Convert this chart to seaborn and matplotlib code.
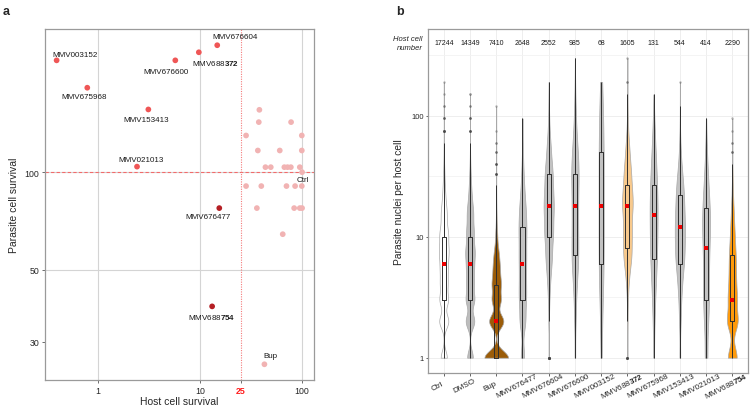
import numpy as np
import pandas as pd
import seaborn as sns
import matplotlib.pyplot as plt
import matplotlib.transforms as mtransforms

# ---------------- panel a : host vs parasite cell survival ----------------
hit_names = ["MMV003152", "MMV675968", "MMV153413", "MMV021013", "MMV676600",
             "MMV688372", "MMV676604", "MMV676477", "MMV688754", "Bup", "Ctrl"]
hit_host = [0.39, 0.78, 3.1, 2.4, 5.7, 9.7, 14.7, 15.4, 13.1, 42.7, 100]
hit_parasite = [221, 182, 156, 104, 221, 234, 246, 77.5, 38.6, 25.6, 100]
hit_group = ["active"] * 7 + ["selective"] * 2 + ["inactive"] * 2

other_host = [38.1, 37.6, 78, 28.2, 99.4, 36.8, 60.4, 99.4, 43.7, 49.3, 67, 72,
              77.6, 95, 28.2, 39.8, 70.3, 85.4, 99.4, 36, 83.6, 95, 100, 64.6]
other_parasite = [155.6, 142.6, 142.6, 129.7, 129.7, 116.6, 116.6, 116.6, 103.6,
                  103.6, 103.6, 103.6, 103.6, 103.6, 90.6, 90.6, 90.6, 90.6, 90.6,
                  77.5, 77.5, 77.5, 77.5, 64.4]

# ---------------- panel b : parasite nuclei per host cell ----------------
compounds = ["Ctrl", "DMSO", "Bup", "MMV676477", "MMV676604", "MMV676600",
             "MMV003152", "MMV688372", "MMV675968", "MMV153413", "MMV021013",
             "MMV688754"]
host_cell_number = [17244, 14349, 7410, 2648, 2552, 985, 68, 1605, 131, 544, 414, 2290]

# number of host cells (counts) carrying each number of parasite nuclei
nuclei_values = [1, 2, 3, 4, 5, 6, 7, 8, 10, 12, 15, 18, 22, 27, 33, 40, 50, 60,
                 75, 95, 120, 150, 190, 240, 300]
ctrl_counts = [1500, 2200, 2000, 1500, 1200, 1100, 900, 1400, 1500, 1000, 1000, 700,
               500, 320, 200, 120, 60, 28, 8, 4, 2, 1, 1, 0, 0]
dmso_counts = [1200, 1800, 1700, 1300, 1000, 900, 800, 1100, 1000, 900, 900, 650,
               450, 300, 170, 100, 45, 20, 6, 4, 2, 2, 0, 0, 0]
bup_counts = [2500, 1500, 900, 800, 500, 400, 250, 220, 150, 80, 50, 25,
              12, 5, 6, 5, 3, 2, 1, 0, 1, 0, 0, 0, 0]
mmv676477_counts = [200, 300, 300, 220, 160, 150, 120, 160, 180, 200, 180, 140,
                    110, 80, 55, 40, 25, 16, 8, 4, 0, 0, 0, 0, 0]
mmv676604_counts = [15, 35, 55, 75, 95, 110, 120, 120, 220, 200, 220, 230,
                    220, 190, 190, 150, 110, 80, 50, 30, 18, 12, 7, 0, 0]
mmv676600_counts = [20, 30, 35, 40, 45, 50, 50, 50, 60, 60, 50, 60,
                    55, 60, 75, 65, 55, 40, 30, 22, 14, 9, 5, 3, 2]
mmv003152_counts = [3, 3, 3, 3, 3, 4, 2, 3, 3, 3, 3, 3,
                    3, 3, 3, 3, 4, 3, 3, 3, 3, 2, 2, 0, 0]
mmv688372_counts = [10, 15, 25, 40, 60, 80, 90, 110, 130, 130, 110, 170,
                    150, 120, 110, 90, 65, 45, 25, 15, 8, 4, 2, 0, 1]
mmv675968_counts = [4, 5, 6, 6, 6, 6, 7, 8, 9, 8, 10, 10,
                    9, 9, 7, 6, 5, 4, 3, 2, 0, 1, 0, 0, 0]
mmv153413_counts = [12, 18, 22, 26, 30, 34, 36, 40, 50, 52, 50, 35,
                    45, 35, 25, 14, 9, 5, 3, 1, 1, 0, 1, 0, 0]
mmv021013_counts = [35, 40, 40, 25, 20, 18, 17, 20, 30, 30, 35, 25,
                    22, 18, 14, 10, 7, 4, 2, 2, 0, 0, 0, 0, 0]
mmv688754_counts = [420, 480, 330, 200, 150, 120, 100, 110, 110, 80, 70, 45,
                    30, 20, 12, 6, 3, 2, 1, 1, 0, 0, 0, 0, 0]

counts_by_compound = {
    "Ctrl": ctrl_counts, "DMSO": dmso_counts, "Bup": bup_counts,
    "MMV676477": mmv676477_counts, "MMV676604": mmv676604_counts,
    "MMV676600": mmv676600_counts, "MMV003152": mmv003152_counts,
    "MMV688372": mmv688372_counts, "MMV675968": mmv675968_counts,
    "MMV153413": mmv153413_counts, "MMV021013": mmv021013_counts,
    "MMV688754": mmv688754_counts,
}

df_a = pd.DataFrame({
    "host": hit_host + other_host,
    "parasite": hit_parasite + other_parasite,
    "group": hit_group + ["inactive"] * len(other_host),
})

df_b = pd.concat([
    pd.DataFrame({"compound": c, "nuclei": np.repeat(nuclei_values, counts_by_compound[c])})
    for c in compounds
], ignore_index=True)

# ------------------------------------------------------------------------
sns.set_theme(style="white")
plt.rcParams["font.family"] = ["Liberation Sans", "DejaVu Sans"]
plt.rcParams["mathtext.fontset"] = "custom"
plt.rcParams["mathtext.rm"] = "Liberation Sans"
plt.rcParams["mathtext.bf"] = "Liberation Sans:bold"


def pretty(name):
    # the distinguishing digits are set in bold
    if name in ("MMV688372", "MMV688754"):
        return name[:6] + r"$\mathbf{" + name[6:] + "}$"
    return name


fig = plt.figure(figsize=(7.5, 4.06), dpi=100)
ax_a = fig.add_axes([0.06, 0.0616, 0.3587, 0.8645])
ax_b = fig.add_axes([0.5707, 0.0781, 0.4267, 0.848])

# ---- panel a
ax_a.set_xscale("log")
ax_a.set_yscale("log")
for v in [1, 10, 100]:
    ax_a.axvline(v, color="#d4d4d4", lw=0.8, zorder=0)
for v in [50, 100]:
    ax_a.axhline(v, color="#d4d4d4", lw=0.8, zorder=0)
ax_a.axhline(100, color="#f26b6b", lw=0.8, ls=(0, (3, 2)), zorder=1)
ax_a.axvline(25, color="#f47c7c", lw=0.8, ls=(0, (1, 1.2)), zorder=1)

sns.scatterplot(data=df_a, x="host", y="parasite", hue="group",
                palette={"active": "#ef5656", "selective": "#b51f24", "inactive": "#f1b3b3"},
                s=17, edgecolor="none", legend=False, zorder=3, ax=ax_a)

label_offsets = {
    "MMV003152": (18, 6), "MMV675968": (-3, -9), "MMV153413": (-2, -10.5),
    "MMV021013": (4.5, 7.5), "MMV676600": (-9, -11.5), "MMV688372": (16.5, -10.5),
    "MMV676604": (18, 8.5), "MMV676477": (-11, -8.5), "MMV688754": (0, -10),
    "Bup": (6, 8.5), "Ctrl": (1, -7.5),
}
for name, hx, py in zip(hit_names, hit_host, hit_parasite):
    dx, dy = label_offsets[name]
    ax_a.annotate(pretty(name), (hx, py), xytext=(dx * 0.72, dy * 0.72),
                  textcoords="offset points", ha="center", va="center",
                  fontsize=5.8, color="#1a1a1a")

ax_a.set_xlim(0.30, 131)
ax_a.set_ylim(22.9, 276)
ax_a.set_xticks([1, 10, 25, 100])
ax_a.set_xticklabels(["1", "10", "25", "100"])
ax_a.set_yticks([30, 50, 100])
ax_a.set_yticklabels(["30", "50", "100"])
ax_a.minorticks_off()
xt = ax_a.get_xticklabels()
xt[2].set_color("#ff1a1a")
xt[2].set_fontweight("bold")
ax_a.tick_params(axis="both", labelsize=6.3, length=2.5, width=0.6, color="#555555",
                 pad=1.5, bottom=True, left=True)
ax_a.set_xlabel("Host cell survival", fontsize=7.5, labelpad=1)
ax_a.set_ylabel("Parasite cell survival", fontsize=7.5, labelpad=4)
for sp in ax_a.spines.values():
    sp.set_color("#9a9a9a")
    sp.set_linewidth(0.9)

# ---- panel b
violin_colors = {c: "#c2c2c2" for c in compounds}
violin_colors.update({"Ctrl": "#ffffff", "DMSO": "#bdbdbd", "Bup": "#9b5c08",
                      "MMV688372": "#f8c98c", "MMV688754": "#ff9a0a"})

# no hue, so every violin shares one area normalisation; recolour afterwards
n_before = len(ax_b.collections)
sns.violinplot(data=df_b, x="compound", y="nuclei", order=compounds, color="#c2c2c2",
               saturation=1, log_scale=True, cut=0, density_norm="area", width=0.9,
               inner=None, gridsize=400, linewidth=0.5, linecolor="#a8a8a8", ax=ax_b)
for coll, c in zip(ax_b.collections[n_before:], compounds):
    coll.set_facecolor(violin_colors[c])

sns.boxplot(data=df_b, x="compound", y="nuclei", order=compounds, log_scale=True,
            width=0.16, fill=False, color="#2e2e2e", linewidth=0.7, fliersize=1.8,
            flierprops=dict(marker="o", markerfacecolor="#444444",
                            markeredgecolor="none", alpha=0.35),
            medianprops=dict(linewidth=0), capprops=dict(linewidth=0), ax=ax_b)
sns.pointplot(data=df_b, x="compound", y="nuclei", order=compounds, estimator="median",
              errorbar=None, linestyle="none", marker="s", markersize=2.7,
              markeredgewidth=0, color="#ee0000", ax=ax_b)

ax_b.set_xlim(-0.6, len(compounds) - 0.4)
ax_b.set_ylim(0.743, 521)
ax_b.set_yticks([1, 10, 100])
ax_b.set_yticklabels(["1", "10", "100"])
ax_b.set_yticks([10 ** 0.5, 10 ** 1.5, 10 ** 2.5], minor=True)
ax_b.set_axisbelow(True)
ax_b.grid(True, which="major", color="#ebebeb", lw=0.6)
ax_b.grid(True, which="minor", axis="y", color="#f2f2f2", lw=0.6)
ax_b.tick_params(axis="y", which="major", labelsize=5.4, length=1.8, width=0.5, pad=1.5, left=True)
ax_b.tick_params(axis="y", which="minor", length=0, left=False)
ax_b.tick_params(axis="x", labelsize=5.8, length=1.8, width=0.5, pad=7, bottom=True)
ax_b.set_xticks(range(len(compounds)))
ax_b.set_xticklabels([pretty(c) for c in compounds], rotation=27, ha="center",
                     va="center", rotation_mode="anchor")
shift = mtransforms.ScaledTranslation(-0.06, 0, fig.dpi_scale_trans)
for lab in ax_b.get_xticklabels():
    lab.set_transform(lab.get_transform() + shift)
ax_b.set_xlabel("")
ax_b.set_ylabel("Parasite nuclei per host cell", fontsize=7.4, labelpad=5)
for sp in ax_b.spines.values():
    sp.set_color("#9a9a9a")
    sp.set_linewidth(0.9)

for i, n in enumerate(host_cell_number):
    ax_b.text(i, 400, str(n), ha="center", va="center", fontsize=5, color="#1a1a1a")
trans = mtransforms.blended_transform_factory(ax_b.transAxes, ax_b.transData)
ax_b.text(-0.018, 400, "Host cell\nnumber", transform=trans, ha="right", va="center",
          fontsize=5.5, style="italic", linespacing=1.5)

fig.text(0.004, 0.985, "a", fontsize=9, fontweight="bold", va="top")
fig.text(0.528, 0.985, "b", fontsize=9, fontweight="bold", va="top")

fig.savefig("out.png", dpi=100)
